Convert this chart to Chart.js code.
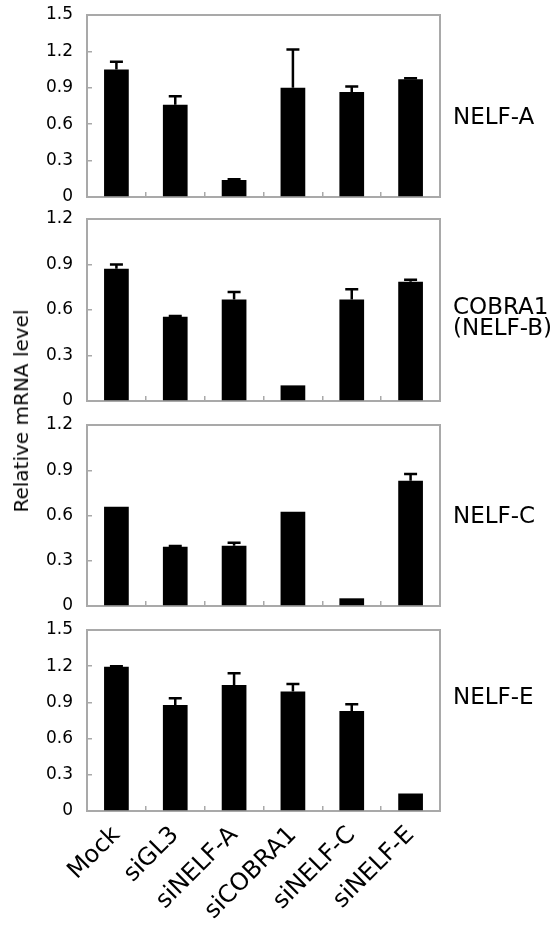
<!DOCTYPE html>
<html>
<head>
<meta charset="utf-8">
<script src="https://cdn.jsdelivr.net/npm/chart.js@4.4.1/dist/chart.umd.min.js"></script>
<style>
  body { margin: 0; background: #fff; }
  #wrap { position: relative; width: 560px; height: 925px; overflow: hidden; font-family: "DejaVu Sans", sans-serif; color: #000; }
  .panel { position: absolute; left: 0; width: 560px; }
  .gene { position: absolute; left: 453px; font-size: 23px; line-height: 21px; transform: translateY(-50%); white-space: nowrap; }
  #ytitle { position: absolute; left: 21px; top: 411px; font-size: 20px; line-height: 20px; white-space: nowrap;
            transform: translate(-50%, -50%) rotate(-90deg); }
</style>
</head>
<body>
<div id="wrap">
  <div class="panel" id="p1"><canvas id="c1"></canvas></div>
  <div class="panel" id="p2"><canvas id="c2"></canvas></div>
  <div class="panel" id="p3"><canvas id="c3"></canvas></div>
  <div class="panel" id="p4"><canvas id="c4"></canvas></div>
  <div id="ytitle">Relative mRNA level</div>
  <div class="gene" style="top:116px">NELF-A</div>
  <div class="gene" style="top:317px">COBRA1<br>(NELF-B)</div>
  <div class="gene" style="top:515px">NELF-C</div>
  <div class="gene" style="top:696px">NELF-E</div>
</div>
<script>
const categories = ['Mock', 'siGL3', 'siNELF-A', 'siCOBRA1', 'siNELF-C', 'siNELF-E'];

// mean values and upper error (SD) per knockdown
const nelfA = [1.05, 0.76, 0.14, 0.90, 0.865, 0.97];
const nelfAErr = [0.065, 0.07, 0.006, 0.315, 0.046, 0.008];

const cobra1 = [0.872, 0.555, 0.67, 0.103, 0.67, 0.787];
const cobra1Err = [0.028, 0.005, 0.048, 0, 0.066, 0.013];

const nelfC = [0.658, 0.393, 0.40, 0.625, 0.051, 0.831];
const nelfCErr = [0, 0.004, 0.02, 0, 0, 0.044];

const nelfE = [1.195, 0.879, 1.045, 0.99, 0.828, 0.145];
const nelfEErr = [0.004, 0.055, 0.097, 0.062, 0.056, 0];

const ticksA = ['0', '0.3', '0.6', '0.9', '1.2', '1.5'];
const ticksB = ['0', '0.3', '0.6', '0.9', '1.2'];

const GREY = '#a9a9a9';
const PAD_TOP = 12;
const LABEL_FONT = '"DejaVu Sans", sans-serif';

const errorBars = {
  id: 'errorBars',
  afterDatasetsDraw(chart, args, opts) {
    const errs = opts.errs || [];
    const values = chart.data.datasets[0].data;
    const meta = chart.getDatasetMeta(0);
    const y = chart.scales.y;
    const ctx = chart.ctx;
    ctx.save();
    ctx.strokeStyle = '#000';
    ctx.lineWidth = 2.5;
    meta.data.forEach((bar, i) => {
      if (!errs[i]) return;
      const top = y.getPixelForValue(values[i] + errs[i]);
      ctx.beginPath();
      ctx.moveTo(bar.x, bar.y);
      ctx.lineTo(bar.x, top);
      ctx.moveTo(bar.x - 6.5, top);
      ctx.lineTo(bar.x + 6.5, top);
      ctx.stroke();
    });
    ctx.restore();
  }
};

function noPadding(s) {
  s.paddingTop = 0;
  s.paddingBottom = 0;
  s.paddingLeft = 0;
  s.paddingRight = 0;
}

function makePanel(n, opts) {
  const box = document.getElementById('p' + n);
  const height = opts.bottomH + (opts.zero - opts.top) + PAD_TOP;
  box.style.top = (opts.top - PAD_TOP) + 'px';
  box.style.height = height + 'px';
  const tickLabels = opts.ticks;
  const max = Number(tickLabels[tickLabels.length - 1]);

  new Chart(document.getElementById('c' + n), {
    type: 'bar',
    data: {
      labels: categories,
      datasets: [{
        data: opts.values,
        backgroundColor: '#000',
        barPercentage: 0.42,
        categoryPercentage: 1
      }]
    },
    options: {
      responsive: true,
      maintainAspectRatio: false,
      animation: false,
      layout: { padding: { top: PAD_TOP, right: 120, left: 0, bottom: 0 } },
      plugins: {
        legend: { display: false },
        tooltip: { enabled: false },
        errorBars: { errs: opts.errs }
      },
      scales: {
        x: {
          position: 'bottom',
          offset: true,
          grid: { display: true, offset: true, drawOnChartArea: false, drawTicks: true, tickLength: -5, color: GREY, lineWidth: 1.5 },
          border: { display: true, color: GREY, width: 2, dash: [5, 3] },
          ticks: {
            display: !!opts.showLabels,
            minRotation: 45,
            maxRotation: 45,
            padding: 15,
            color: '#000',
            font: { family: LABEL_FONT, size: 24 }
          },
          afterFit: s => { s.height = opts.bottomH; noPadding(s); }
        },
        x2: {
          type: 'category',
          position: 'top',
          grid: { display: false },
          border: { display: true, color: GREY, width: 2 },
          ticks: { display: false },
          afterFit: s => { s.height = 0; noPadding(s); }
        },
        y: {
          min: 0,
          max: max,
          ticks: {
            stepSize: 0.3,
            padding: 19,
            color: '#000',
            font: { family: LABEL_FONT, size: 17 },
            callback: v => v === 0 ? '0' : v.toFixed(1)
          },
          grid: { drawOnChartArea: false, tickLength: -5, color: GREY, lineWidth: 1.5 },
          border: { display: true, color: GREY, width: 2 },
          afterFit: s => { s.width = 87; noPadding(s); }
        },
        y2: {
          position: 'right',
          min: 0,
          max: max,
          grid: { display: false },
          border: { display: true, color: GREY, width: 2 },
          ticks: { display: false },
          afterFit: s => { s.width = 0; noPadding(s); }
        }
      }
    },
    plugins: [errorBars]
  });
}

makePanel(1, { top: 15, zero: 197, ticks: ticksA, values: nelfA, errs: nelfAErr, bottomH: 12 });
makePanel(2, { top: 219, zero: 401, ticks: ticksB, values: cobra1, errs: cobra1Err, bottomH: 12 });
makePanel(3, { top: 425, zero: 606, ticks: ticksB, values: nelfC, errs: nelfCErr, bottomH: 12 });
makePanel(4, { top: 630, zero: 811, ticks: ticksA, values: nelfE, errs: nelfEErr, bottomH: 114, showLabels: true });
</script>
</body>
</html>
